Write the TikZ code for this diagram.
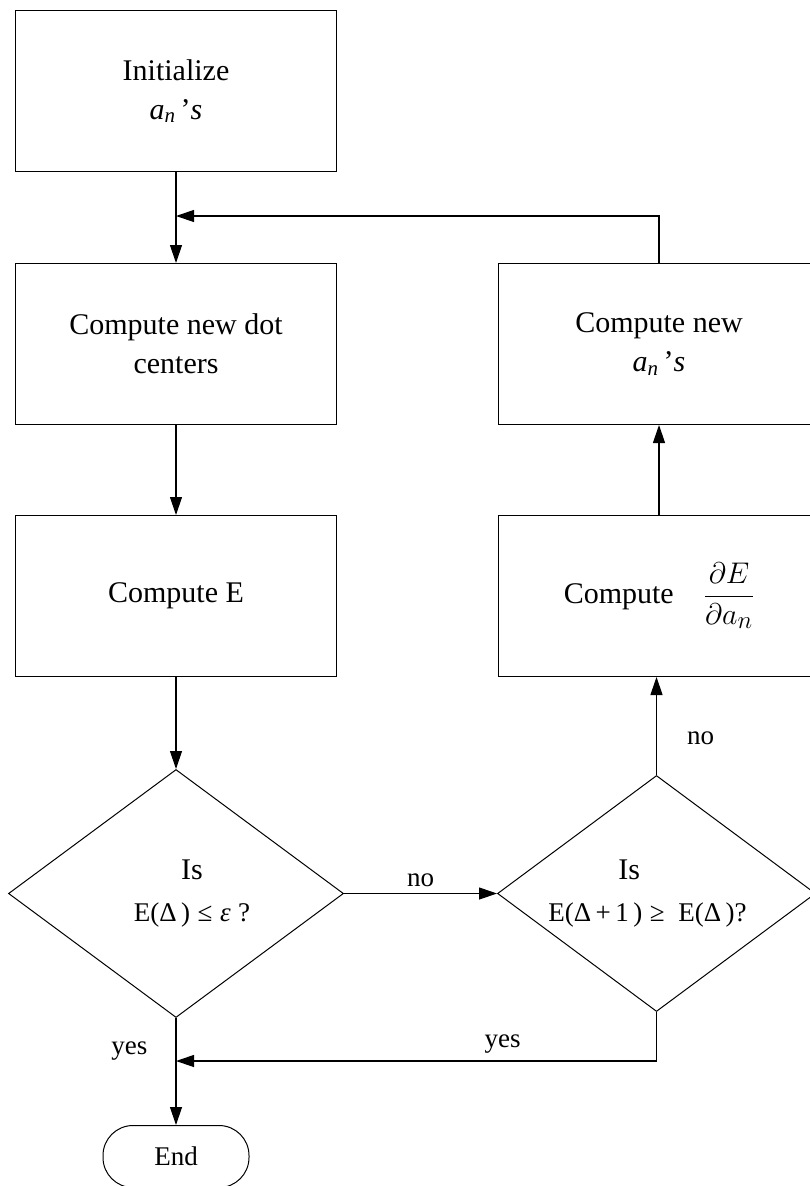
\documentclass[tikz,border=0pt]{standalone}
\usepackage{amsmath}
\usepackage{graphicx}
\usepackage{fontspec}
\setmainfont{Liberation Serif}
\usetikzlibrary{positioning,arrows.meta,shapes.geometric}
\newcommand{\ans}{\textit{a\textsubscript{n}}\,'\textit{s}}

\begin{document}
\begin{tikzpicture}[
  x=1pt, y=-1pt,
  font=\fontsize{30}{39}\selectfont,
  proc/.style={draw, line width=1pt, minimum width=321pt, minimum height=161pt,
               align=center, inner sep=0pt},
  dec/.style={draw, diamond, line width=1pt, inner sep=0pt},
  term/.style={draw, line width=1pt, rounded corners=30pt, minimum width=146pt,
               minimum height=62pt, font=\fontsize{27}{30}\selectfont},
  lbl/.style={font=\fontsize{27}{30}\selectfont, inner sep=2pt},
  flow/.style={-{Triangle[length=18pt,width=12pt]}, line width=1.2pt}]

\useasboundingbox (0,0) rectangle (810,1186);

\node[proc] (init) at (176,91) {Initialize\\\ans};
\node[proc, below=91pt of init] (dot) {Compute new dot\\centers};
\node[proc, below=90pt of dot] (cE) {Compute E};
\node[dec, minimum width=335pt, minimum height=248pt, below=92pt of cE] (d1) {};
\node[term, below=107pt of d1] (stop) {End};

\node[proc, right=161pt of dot] (newa) {Compute new\\\ans};
\node[proc, right=161pt of cE] (dE) {Compute\quad\scalebox{1.2}{$\dfrac{\partial E}{\partial a_n}$}};
\node[dec, minimum width=318pt, minimum height=236pt, right=153pt of d1] (d2) {};

\node[align=center, font=\fontsize{27}{42}\selectfont] (q1) at ([xshift=16pt]d1.center)
  {{\fontsize{30}{42}\selectfont Is}\\E(Δ\,)\;≤\;\textit{ε}\;?};
\node[align=left, font=\fontsize{27}{42}\selectfont] (q2) at ([xshift=-9pt]d2.center)
  {\hspace*{70pt}{\fontsize{30}{42}\selectfont Is}\\E(Δ\,+\,1\,)\;≥\enspace E(Δ\,)?};

\coordinate (loopin) at (176,216);
\coordinate (yesin) at (176,1061);

\draw[flow] (init) -- (dot);
\draw[flow] (dot) -- (cE);
\draw[flow] (cE) -- (d1);
\draw[flow] (d1) -- node[lbl, above=4pt] {no} (d2);
\draw[flow] (d2.north) -- node[lbl, right=28pt, pos=0.37] {no} (d2.north |- dE.south);
\draw[flow] (dE.north) -- (dE.north |- newa.south);
\draw[flow] (newa.north) |- (loopin);
\draw[flow] (d1) -- node[lbl, left=26pt, pos=0.31] {yes} (stop);
\draw[flow] (d2.south) |- node[lbl, above=5pt, pos=0.66] {yes} (yesin);
\end{tikzpicture}
\end{document}
